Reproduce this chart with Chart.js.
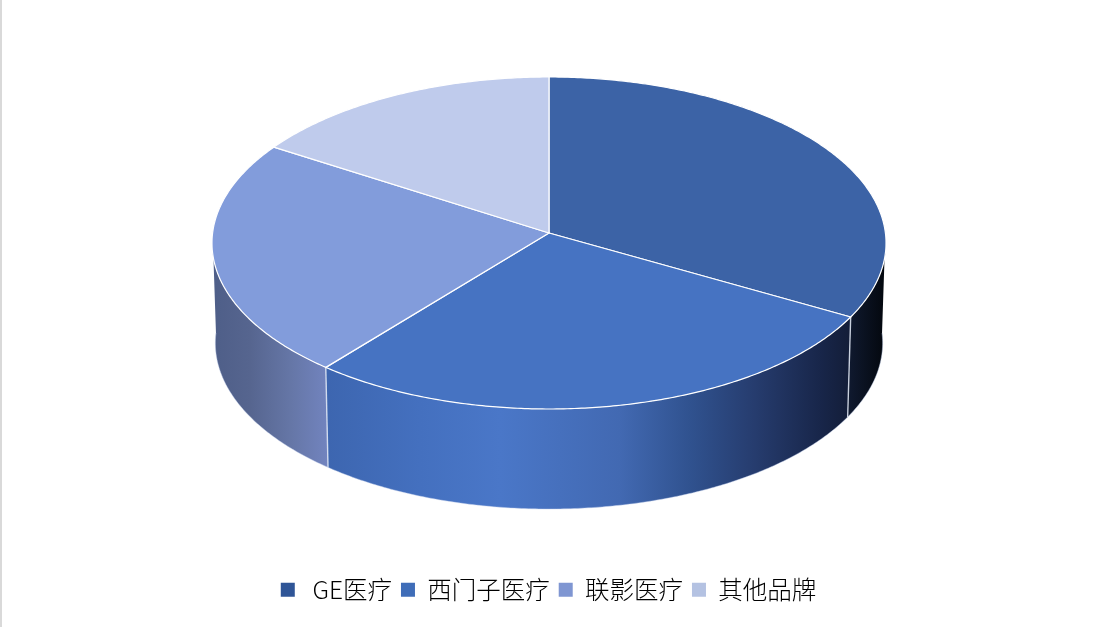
<!DOCTYPE html>
<html><head><meta charset="utf-8">
<style>
html,body{margin:0;padding:0;background:#fff;overflow:hidden}
#wrap{position:relative;width:1097px;height:627px}
#edge{position:absolute;left:0;top:0;width:2px;height:627px;background:#d9d9d9}
</style>
<script src="https://cdn.jsdelivr.net/npm/chart.js@4"></script>
</head><body>
<div id="wrap"><canvas id="c" width="1097" height="627"></canvas><div id="edge"></div></div>
<script>
const categories = [' GE医疗', '西门子医疗', '联影医疗', '其他品牌'];
const shares = [33.2, 27.7, 23.1, 16.0];
const faceColors = ['#3c63a6', '#4673c2', '#829cdb', '#bfcbec'];
const legendColors = ['#2f5597', '#3f6db8', '#7f96d2', '#b4c2e2'];
const wallStops = [
  [[848, '#101a30'], [886, '#03070d']],
  [[328, '#3d66b0'], [420, '#4470bf'], [500, '#4a77c8'], [620, '#4269b2'], [690, '#30528f'], [755, '#263c6e'], [820, '#18264a'], [850, '#131d38']],
  [[212, '#4e5e88'], [250, '#56658f'], [290, '#6576a6'], [328, '#7284bf']],
  [[212, '#000000'], [886, '#000000']]
];
// Perspective projection of the unit circle on to the screen
const HUB_X = 549, HUB_Y = 233, AX = 336.4, AY = 165.4, PERSP = 0.0602;
const WALL_DY = 100, WALL_SCALE = 0.99;

function project(t, bottom) {
  const u = Math.cos(t), v = Math.sin(t), w = 1 - PERSP * v;
  const x = AX * u / w, y = AY * v / w;
  return bottom ? [HUB_X + x * WALL_SCALE, HUB_Y + y + WALL_DY] : [HUB_X + x, HUB_Y + y];
}
function traceArc(ctx, a, b, bottom, move) {
  const n = Math.max(2, Math.ceil(Math.abs(b - a) / 0.01));
  for (let i = 0; i <= n; i++) {
    const p = project(a + (b - a) * i / n, bottom);
    if (i === 0 && move) ctx.moveTo(p[0], p[1]); else ctx.lineTo(p[0], p[1]);
  }
}
function drawFace(ctx) {
  const s = this.startAngle, e = this.endAngle;
  ctx.save();
  ctx.beginPath();
  ctx.moveTo(HUB_X, HUB_Y);
  traceArc(ctx, s, e, false, false);
  ctx.closePath();
  ctx.fillStyle = this.options.backgroundColor;
  ctx.fill();
  ctx.strokeStyle = '#ffffff';
  ctx.lineWidth = 1.2;
  ctx.lineJoin = 'round';
  ctx.stroke();
  ctx.restore();
}
const pie3d = {
  id: 'pie3d',
  beforeDatasetsDraw(chart) {
    const ctx = chart.ctx, arcs = chart.getDatasetMeta(0).data;
    arcs.forEach(a => { a.draw = drawFace; });
    arcs.forEach((arc, i) => {
      const s = Math.max(arc.startAngle, 0), e = Math.min(arc.endAngle, Math.PI);
      if (e <= s) return;
      const stops = wallStops[i];
      const x0 = stops[0][0], x1 = stops[stops.length - 1][0];
      const g = ctx.createLinearGradient(x0, 0, x1, 0);
      stops.forEach(st => g.addColorStop((st[0] - x0) / (x1 - x0), st[1]));
      ctx.save();
      ctx.beginPath();
      traceArc(ctx, s, e, false, true);
      traceArc(ctx, e, s, true, false);
      ctx.closePath();
      ctx.fillStyle = g;
      ctx.fill();
      ctx.beginPath();
      traceArc(ctx, s, e, true, true);
      ctx.strokeStyle = 'rgba(190,205,235,0.55)';
      ctx.lineWidth = 0.8;
      ctx.stroke();
      ctx.restore();
    });
    arcs.forEach(arc => {
      const t = arc.endAngle;
      if (t > 0 && t < Math.PI) {
        const a = project(t, false), b = project(t, true);
        ctx.save();
        ctx.beginPath();
        ctx.moveTo(a[0], a[1]);
        ctx.lineTo(b[0], b[1]);
        ctx.strokeStyle = 'rgba(225,232,245,0.85)';
        ctx.lineWidth = 1.4;
        ctx.stroke();
        ctx.restore();
      }
    });
  }
};
new Chart(document.getElementById('c'), {
  type: 'pie',
  data: { labels: categories, datasets: [{ data: shares, backgroundColor: faceColors, borderWidth: 0 }] },
  options: {
    responsive: false,
    animation: false,
    events: [],
    layout: { padding: { bottom: 15 } },
    plugins: {
      tooltip: { enabled: false },
      legend: {
        position: 'bottom',
        labels: {
          boxWidth: 14, boxHeight: 14, padding: 9,
          color: '#595959',
          font: { family: '"Noto Sans CJK SC","Noto Sans",sans-serif', size: 24.5, weight: '300' },
          generateLabels: () => categories.map((text, i) => ({
            text, fillStyle: legendColors[i], strokeStyle: legendColors[i], lineWidth: 0, index: i
          }))
        }
      }
    }
  },
  plugins: [pie3d]
});
</script>
</body></html>
